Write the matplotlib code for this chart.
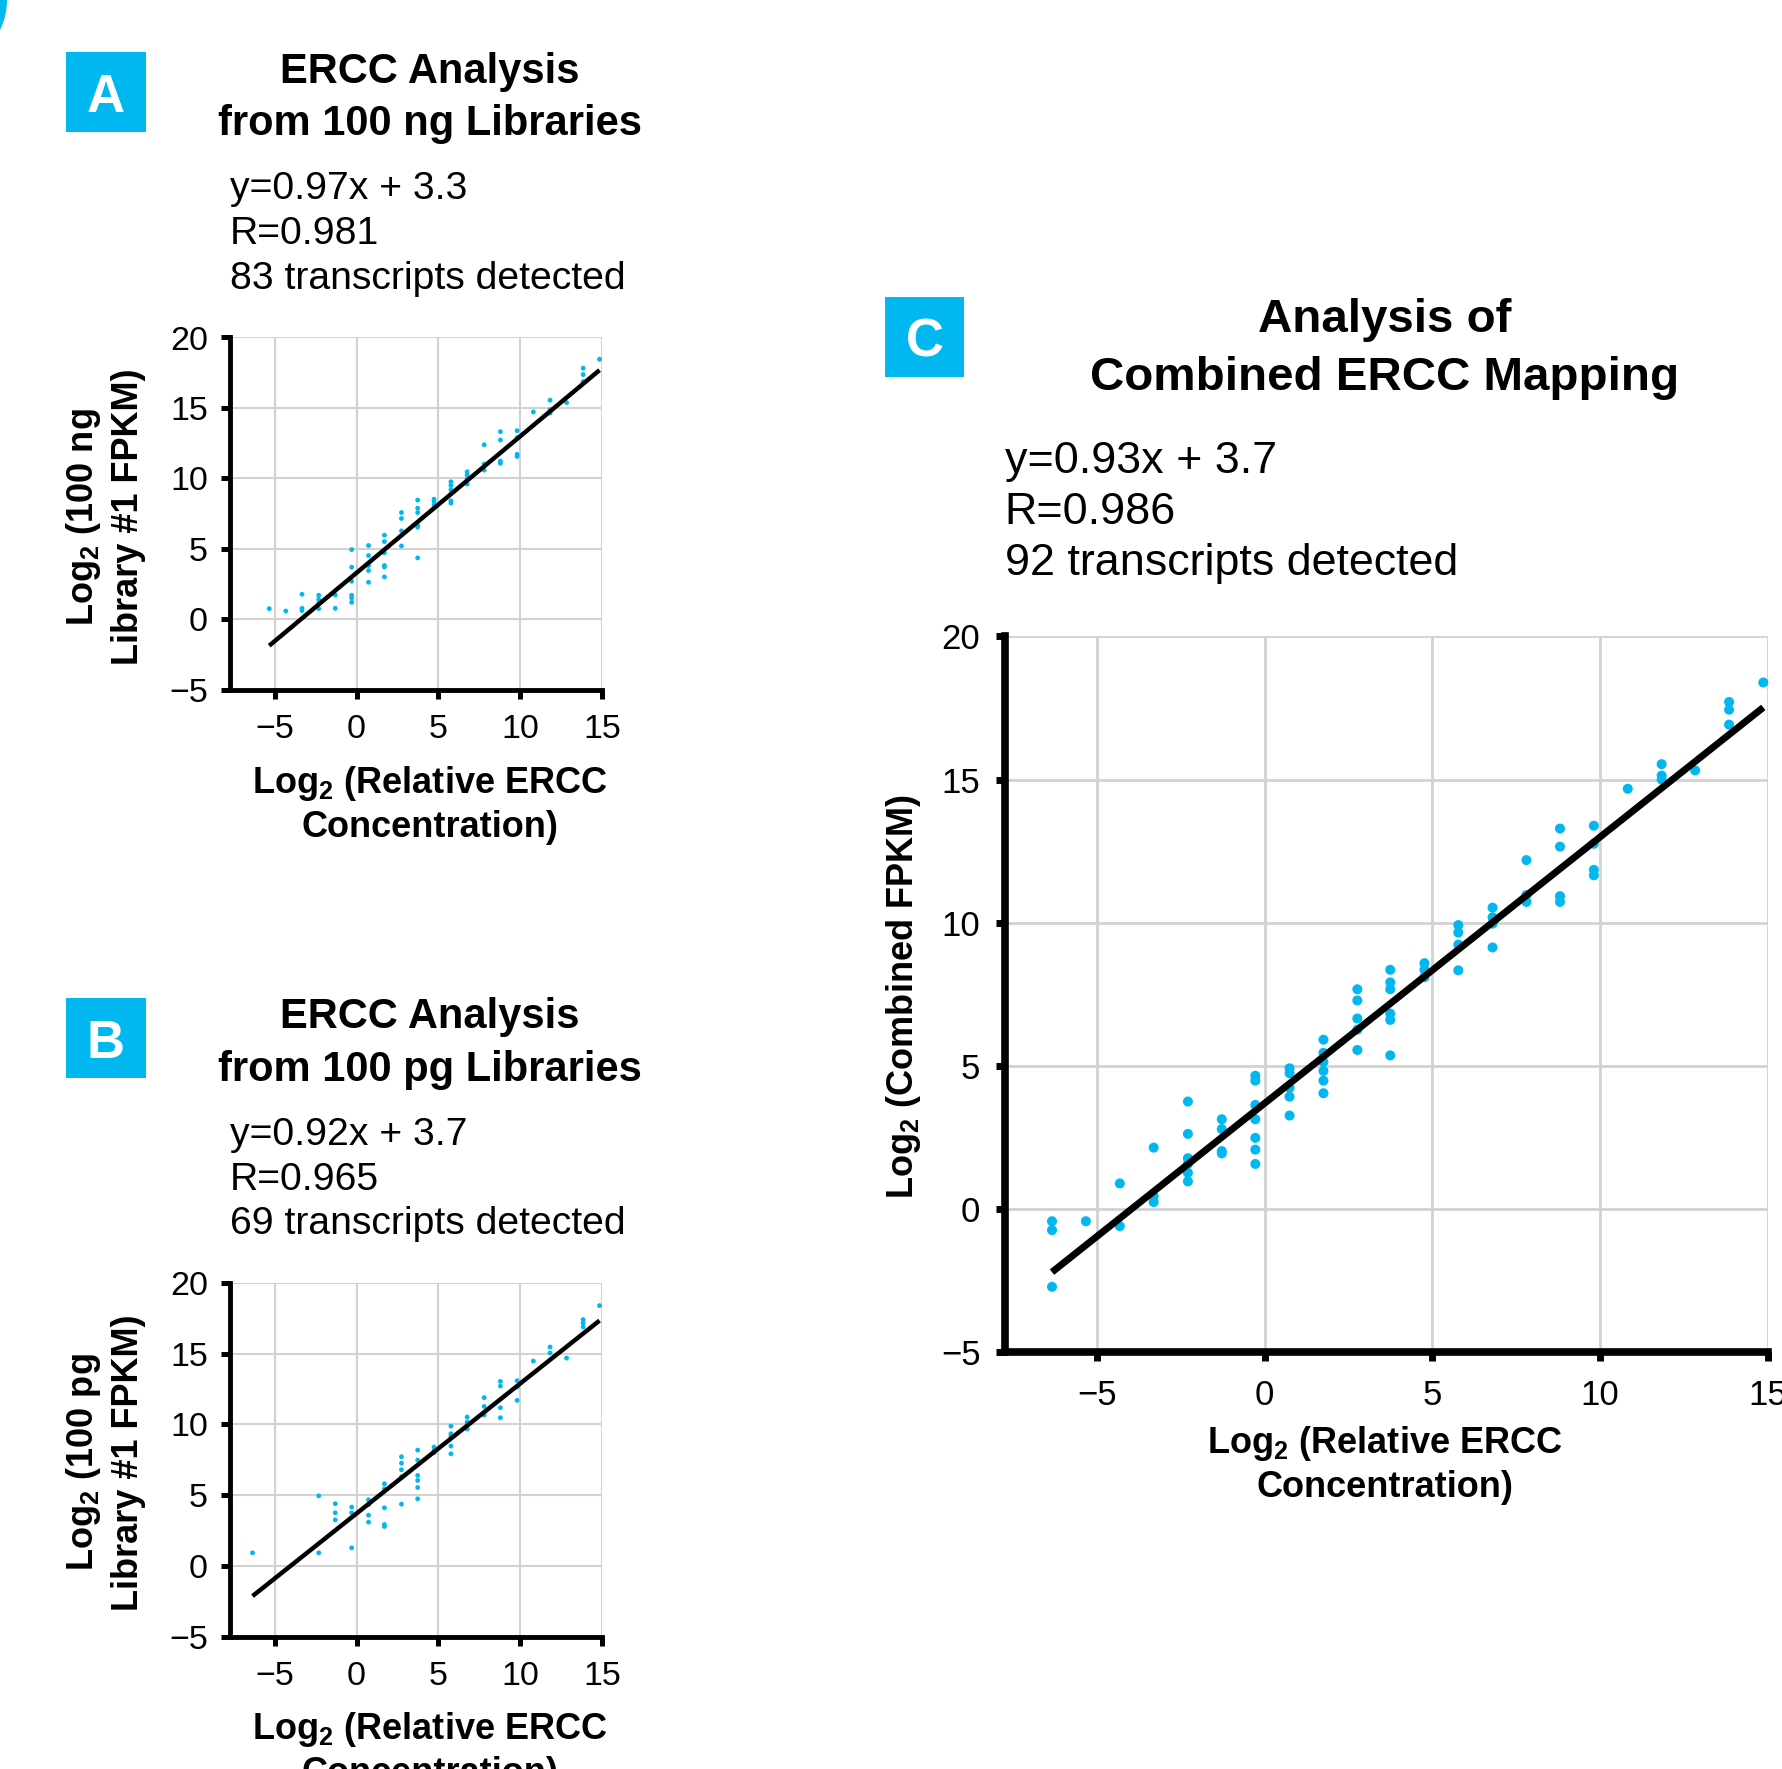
import matplotlib
matplotlib.use("Agg")
import matplotlib.pyplot as plt
from matplotlib.patches import Rectangle, Ellipse

plt.rcParams['font.family'] = ['Liberation Sans', 'DejaVu Sans']
plt.rcParams['mathtext.fontset'] = 'custom'
plt.rcParams['mathtext.rm'] = 'Liberation Sans'
plt.rcParams['mathtext.bf'] = 'Liberation Sans:bold'

# --- data ---
a_x = [-5.33, -4.32, -3.33, -3.33, -3.33, -2.31, -2.31, -2.31, -2.31, -1.30, -1.30,
       -0.30, -0.30, -0.30, -0.30, -0.30, -0.30, 0.73, 0.73, 0.73, 0.73, 0.73,
       1.70, 1.70, 1.70, 1.70, 1.70, 1.70, 2.74, 2.74, 2.74, 2.74,
       3.73, 3.73, 3.73, 3.73, 3.73, 3.73, 4.73, 4.73, 4.73,
       5.76, 5.76, 5.76, 5.76, 5.76, 6.75, 6.75, 6.75, 6.75,
       7.79, 7.79, 7.79, 8.78, 8.78, 8.78, 8.78, 9.80, 9.80, 9.80, 9.80,
       10.79, 11.81, 11.81, 11.81, 12.82, 13.83, 13.83, 13.83, 14.83]
a_y = [0.76, 0.59, 1.78, 0.78, 0.62, 1.71, 1.42, 1.14, 0.76, 1.73, 0.78,
       4.95, 3.70, 2.70, 1.71, 1.52, 1.21, 5.24, 4.53, 3.82, 3.46, 2.63,
       5.97, 5.52, 4.72, 3.82, 3.72, 3.01, 7.58, 7.16, 6.28, 5.21,
       8.46, 7.89, 7.58, 6.66, 6.54, 4.36, 8.53, 8.34, 8.06,
       9.76, 9.50, 9.19, 8.41, 8.25, 10.47, 10.24, 9.95, 9.60,
       12.39, 11.02, 10.59, 13.32, 12.73, 11.23, 11.07, 13.39, 12.89, 11.71, 11.56,
       14.72, 15.55, 14.88, 14.64, 15.38, 17.82, 17.37, 16.87, 18.46]
a_fit = (0.97, 3.3)
a_stats = ["y=0.97x + 3.3", "R=0.981", "83 transcripts detected"]

b_x = [-6.35, -2.31, -2.31, -1.30, -1.30, -1.30, -0.30, -0.30, -0.30,
       0.73, 0.73, 0.73, 0.73, 1.70, 1.70, 1.70, 1.70, 1.70,
       2.74, 2.74, 2.74, 2.74, 2.74, 3.73, 3.73, 3.73, 3.73, 3.73, 3.73,
       4.73, 4.73, 4.73, 5.76, 5.76, 5.76, 5.76, 5.76, 6.75, 6.75, 6.75, 6.75,
       7.79, 7.79, 7.79, 8.78, 8.78, 8.78, 8.78, 9.80, 9.80, 9.80,
       10.79, 11.81, 11.81, 12.82, 13.83, 13.83, 13.83, 14.83]
b_y = [0.92, 4.95, 0.92, 4.39, 3.75, 3.25, 4.15, 3.75, 1.27,
       4.67, 4.32, 3.58, 3.09, 5.80, 5.45, 4.10, 2.92, 2.78,
       7.71, 7.26, 6.79, 6.30, 4.36, 8.18, 7.48, 6.39, 6.04, 5.54, 4.74,
       8.40, 8.16, 8.00, 9.88, 9.34, 9.17, 8.47, 7.92, 10.52, 10.17, 9.88, 9.67,
       11.89, 11.27, 10.66, 13.04, 12.71, 11.18, 10.47, 13.09, 12.64, 11.70,
       14.48, 15.47, 15.05, 14.69, 17.41, 17.17, 16.89, 18.40]
b_fit = (0.92, 3.7)
b_stats = ["y=0.92x + 3.7", "R=0.965", "69 transcripts detected"]

c_x = [-6.34, -6.34, -6.34, -5.33, -4.32, -4.32, -3.31, -3.31, -3.31,
       -2.29, -2.29, -2.29, -2.29, -2.29, -2.29, -1.28, -1.28, -1.28, -1.28,
       -0.28, -0.28, -0.28, -0.28, -0.28, -0.28, -0.28, 0.74, 0.74, 0.74, 0.74, 0.74,
       1.75, 1.75, 1.75, 1.75, 1.75, 1.75, 2.76, 2.76, 2.76, 2.76, 2.76,
       3.74, 3.74, 3.74, 3.74, 3.74, 3.74, 4.76, 4.76, 4.76,
       5.77, 5.77, 5.77, 5.77, 6.79, 6.79, 6.79, 6.79, 7.80, 7.80, 7.80,
       8.80, 8.80, 8.80, 8.80, 9.81, 9.81, 9.81, 9.81, 10.82,
       11.83, 11.83, 11.83, 12.83, 13.84, 13.84, 13.84, 14.86]
c_y = [-0.42, -0.73, -2.71, -0.42, 0.90, -0.59, 2.15, 0.46, 0.25,
       3.76, 2.63, 1.78, 1.58, 1.27, 0.97, 3.14, 2.80, 2.03, 1.95,
       4.66, 4.49, 3.64, 3.14, 2.49, 2.08, 1.58, 4.92, 4.75, 4.24, 3.93, 3.27,
       5.92, 5.46, 5.14, 4.83, 4.49, 4.05, 7.68, 7.29, 6.66, 6.27, 5.56,
       8.36, 7.92, 7.68, 6.83, 6.61, 5.37, 8.59, 8.36, 8.10,
       9.92, 9.66, 9.24, 8.34, 10.53, 10.19, 9.97, 9.14, 12.19, 10.97, 10.73,
       13.29, 12.66, 10.93, 10.73, 13.39, 12.76, 11.85, 11.66, 14.68,
       15.54, 15.14, 15.00, 15.32, 17.71, 17.44, 16.92, 18.39]
c_fit = (0.93, 3.7)
c_stats = ["y=0.93x + 3.7", "R=0.986", "92 transcripts detected"]

x_ticks = [-5, 0, 5, 10, 15]
y_ticks = [-5, 0, 5, 10, 15, 20]

BLUE = '#00b8ef'
W, H = 1782, 1769


def fx(px):
    return px / W


def fy(py):
    return 1 - py / H


def draw_panel(ax, xs, ys, fit, big=False):
    slope, icpt = fit
    ax.scatter(xs, ys, s=52 if big else 12, color=BLUE, edgecolors='none',
               zorder=3, clip_on=False)
    x0, x1 = min(xs), max(xs)
    ax.plot([x0, x1], [slope * x0 + icpt, slope * x1 + icpt], color='black',
            lw=5 if big else 3.2, solid_capstyle='butt', zorder=4)

    ax.set_xlim(-7.75, 15)
    ax.set_ylim(-5, 20)
    ax.set_xticks(x_ticks)
    ax.set_yticks(y_ticks)
    ax.grid(True, color='#d2d2d2', lw=2 if big else 1.5)
    ax.set_axisbelow(True)
    for s in ['top', 'right']:
        ax.spines[s].set_visible(False)
    for s in ['left', 'bottom']:
        ax.spines[s].set_linewidth(5.5 if big else 3.5)
    ax.tick_params(direction='out', length=6.5, width=5 if big else 3.6,
                   labelsize=25 if big else 24.5)
    ax.tick_params(axis='x', pad=13 if big else 11)
    ax.tick_params(axis='y', pad=11 if big else 9)


def label_box(fig, x, y, letter):
    fig.add_artist(Rectangle((fx(x), fy(y + 80)), 80 / W, 80 / H,
                             transform=fig.transFigure, color=BLUE, lw=0))
    fig.text(fx(x + 40), fy(y + 60), letter, color='white', fontsize=38,
             fontweight='bold', ha='center', va='baseline')


def text_lines(fig, x, baselines, lines, **kw):
    for b, t in zip(baselines, lines):
        fig.text(fx(x), fy(b), t, va='baseline', **kw)


fig = plt.figure(figsize=(W / 100, H / 100), dpi=100)

ax_a = fig.add_axes([fx(229.6), fy(689.8), 372.7 / W, 352.3 / H])
ax_b = fig.add_axes([fx(229.6), fy(1636.5), 372.7 / W, 353.5 / H])
ax_c = fig.add_axes([fx(1004.7), fy(1352.4), 763.3 / W, 716 / H])

draw_panel(ax_a, a_x, a_y, a_fit)
draw_panel(ax_b, b_x, b_y, b_fit)
draw_panel(ax_c, c_x, c_y, c_fit, big=True)

# blue corner mark (cut off at the top left)
fig.add_artist(Ellipse((fx(-61), fy(0)), 136 / W, 136 / H,
                       transform=fig.transFigure, color=BLUE, lw=0))

xlab = ["Log$_\\mathbf{2}$ (Relative ERCC", "Concentration)"]

# panels A and B (B sits 945.6 px lower)
for dy, letter, amount, stats, ylab2 in [
        (0, 'A', '100 ng', a_stats, 'Log$_\\mathbf{2}$ (100 ng'),
        (945.6, 'B', '100 pg', b_stats, 'Log$_\\mathbf{2}$ (100 pg')]:
    label_box(fig, 66, 52 + dy, letter)
    text_lines(fig, 429.6, [82.7 + dy, 135 + dy],
               ["ERCC Analysis", "from %s Libraries" % amount],
               fontsize=30, fontweight='bold', ha='center')
    text_lines(fig, 229.6, [199 + dy, 244 + dy, 288.5 + dy], stats,
               fontsize=28.2, ha='left')
    text_lines(fig, 429.6, [793 + dy, 837 + dy], xlab,
               fontsize=26, fontweight='bold', ha='center')
    for bx, t in [(93, ylab2), (138, "Library #1 FPKM)")]:
        fig.text(fx(bx), fy(517 + dy), t, rotation=90, rotation_mode='anchor',
                 ha='center', va='baseline', fontsize=26, fontweight='bold')

# panel C
label_box(fig, 884.5, 296.7, 'C')
text_lines(fig, 1385, [331.7, 390], ["Analysis of", "Combined ERCC Mapping"],
           fontsize=34.2, fontweight='bold', ha='center')
text_lines(fig, 1004.7, [473, 524, 575], c_stats, fontsize=32.3, ha='left')
text_lines(fig, 1385, [1452.7, 1496.7], xlab, fontsize=26, fontweight='bold',
           ha='center')
fig.text(fx(913), fy(997), "Log$_\\mathbf{2}$ (Combined FPKM)", rotation=90,
         rotation_mode='anchor', ha='center', va='baseline', fontsize=26,
         fontweight='bold')

fig.savefig('out.png', dpi=100)
